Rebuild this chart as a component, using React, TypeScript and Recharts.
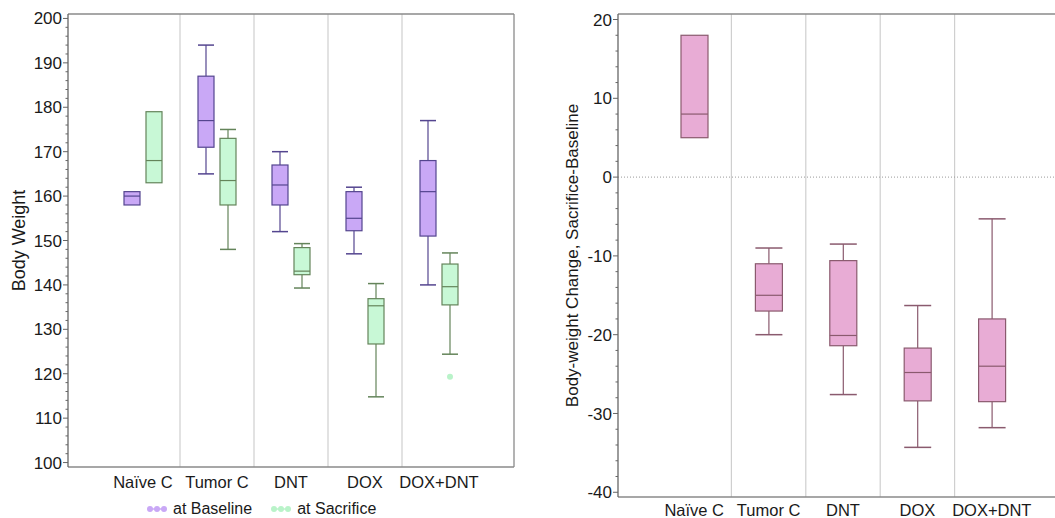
import React from 'react'
import { ComposedChart, Bar, XAxis, YAxis, ReferenceLine, Legend } from 'recharts'

const groups = ['Naïve C', 'Tumor C', 'DNT', 'DOX', 'DOX+DNT']

// body weight at baseline
const baseMin = [158, 165, 152, 147, 140]
const baseQ1 = [158, 171, 158, 152.2, 151]
const baseMed = [160, 177, 162.5, 155, 161]
const baseQ3 = [161, 187, 167, 161, 168]
const baseMax = [161, 194, 170, 162, 177]
const baseOut: number[][] = [[], [], [], [], []]

// body weight at sacrifice
const sacMin = [163, 148, 139.3, 114.8, 124.4]
const sacQ1 = [163, 158, 142.3, 126.7, 135.5]
const sacMed = [168, 163.5, 143.1, 135.3, 139.6]
const sacQ3 = [179, 173, 148.4, 136.9, 144.7]
const sacMax = [179, 175, 149.3, 140.3, 147.2]
const sacOut: number[][] = [[], [], [], [], [119.3]]

// change, sacrifice - baseline
const chgMin = [5, -20, -27.6, -34.3, -31.8]
const chgQ1 = [5, -17, -21.4, -28.4, -28.5]
const chgMed = [8, -15, -20.1, -24.8, -24]
const chgQ3 = [18, -11, -10.6, -21.7, -18]
const chgMax = [18, -9, -8.5, -16.3, -5.3]
const chgOut: number[][] = [[], [], [], [], []]

// every 2 units gets a tick mark, every 10 a label
const weightTicks = Array.from({ length: 51 }, (_, i) => 100 + i * 2)
const changeTicks = Array.from({ length: 31 }, (_, i) => -40 + i * 2)
// boundaries between the groups, on the group-index axis
const separators = [0.5, 1.5, 2.5, 3.5]

const FONT = '"Liberation Sans", Arial, Helvetica, sans-serif'
const TEXT = '#1a1a1a'
const AXIS = '#8a8a8a'
const GRID = '#cfcfcf'

const BASE = { fill: '#c9a8f6', stroke: '#54458f', out: '#c9a8f6' }
const SAC = { fill: '#c8f8d6', stroke: '#64845a', out: '#b9f3c9' }
const CHG = { fill: '#e8acd5', stroke: '#8a5a6e', out: '#e8acd5' }

type Stats = { min: number; q1: number; med: number; q3: number; max: number; out: number[] }

const stat = (mn: number[], a: number[], m: number[], b: number[], mx: number[], o: number[][], i: number): Stats =>
  ({ min: mn[i], q1: a[i], med: m[i], q3: b[i], max: mx[i], out: o[i] })

const rows = groups.map((g, i) => ({
  group: g,
  idx: i,
  base: stat(baseMin, baseQ1, baseMed, baseQ3, baseMax, baseOut, i),
  sac: stat(sacMin, sacQ1, sacMed, sacQ3, sacMax, sacOut, i),
  chg: stat(chgMin, chgQ1, chgMed, chgQ3, chgMax, chgOut, i),
}))

// box drawn inside the [min,max] range bar, so positions come from the axis scale
const BoxShape = (props: any) => {
  const { x, y, width, height, stats, c } = props
  if (x == null || y == null) return null
  const s: Stats = stats
  const top = Math.min(y, y + height)
  const h = Math.abs(height)
  const k = s.max > s.min ? h / (s.max - s.min) : 0
  const py = (v: number) => top + (s.max - v) * k
  const cx = x + width / 2
  return (
    <g>
      {s.max > s.q3 && (
        <>
          <line x1={cx} x2={cx} y1={py(s.max)} y2={py(s.q3)} stroke={c.stroke} strokeWidth={1.2} />
          <line x1={x} x2={x + width} y1={py(s.max)} y2={py(s.max)} stroke={c.stroke} strokeWidth={1.5} />
        </>
      )}
      {s.min < s.q1 && (
        <>
          <line x1={cx} x2={cx} y1={py(s.q1)} y2={py(s.min)} stroke={c.stroke} strokeWidth={1.2} />
          <line x1={x} x2={x + width} y1={py(s.min)} y2={py(s.min)} stroke={c.stroke} strokeWidth={1.5} />
        </>
      )}
      <rect x={x} y={py(s.q3)} width={width} height={py(s.q1) - py(s.q3)} fill={c.fill} stroke={c.stroke} strokeWidth={1.2} />
      <line x1={x} x2={x + width} y1={py(s.med)} y2={py(s.med)} stroke={c.stroke} strokeWidth={1.2} />
      {s.out.map((v, i) => (
        <circle key={i} cx={cx} cy={py(v)} r={3} fill={c.out} />
      ))}
    </g>
  )
}

// y tick: long mark + label every 10, short mark otherwise
const YTick = (props: any) => {
  const { x, y, payload } = props
  const major = payload.value % 10 === 0
  return (
    <g>
      <line x1={x - (major ? 5 : 2.5)} x2={x} y1={y} y2={y} stroke="#666" strokeWidth={1} />
      {major && (
        <text x={x - 6} y={y} dy="0.355em" textAnchor="end" fontSize={17} fill={TEXT} fontFamily={FONT}>
          {payload.value}
        </text>
      )}
    </g>
  )
}

const LegendIcon = ({ color }: { color: string }) => (
  <svg width={22} height={8} style={{ marginRight: 5 }}>
    <line x1={3} x2={19} y1={4} y2={4} stroke={color} strokeWidth={1.5} />
    <circle cx={4} cy={4} r={3} fill={color} />
    <circle cx={11} cy={4} r={3} fill={color} />
    <circle cx={18} cy={4} r={3} fill={color} />
  </svg>
)

const WeightLegend = () => (
  <div style={{ display: 'flex', alignItems: 'center', paddingLeft: 146, paddingTop: 8, fontSize: 16, lineHeight: '18px', color: TEXT, fontFamily: FONT }}>
    <LegendIcon color={BASE.out} />
    <span style={{ marginRight: 18 }}>at Baseline</span>
    <LegendIcon color={SAC.out} />
    <span>at Sacrifice</span>
  </div>
)

export default function App() {
  return (
    <div style={{ position: 'fixed', left: 0, top: 0, width: 1055, height: 518, overflow: 'hidden', background: '#fff', fontFamily: FONT }}>
      {/* body weight, baseline vs sacrifice */}
      <div style={{ position: 'absolute', left: 0, top: 0 }}>
        <ComposedChart width={530} height={518} data={rows} margin={{ top: 13, right: 15, bottom: 0, left: 8 }} barSize={16} barGap={6}>
          <XAxis xAxisId="cat" dataKey="group" padding={{ left: 38, right: 38 }} interval={0} tickLine={false}
            axisLine={{ stroke: AXIS, strokeWidth: 1.3 }} tick={{ fontSize: 16.5, fill: TEXT }} tickSize={6} tickMargin={3} height={25} />
          <XAxis xAxisId="sep" dataKey="idx" type="number" domain={[-0.5, 4.5]} allowDataOverflow padding={{ left: 38, right: 38 }} hide />
          <XAxis xAxisId="top" orientation="top" dataKey="group" tick={false} tickLine={false} axisLine={{ stroke: AXIS, strokeWidth: 1.3 }} height={1} />
          <YAxis yAxisId="w" type="number" domain={[99, 201]} ticks={weightTicks} interval={0} tickSize={0} tickMargin={0}
            tickLine={false} axisLine={{ stroke: '#666', strokeWidth: 1.3 }} tick={<YTick />} width={60}
            label={{ value: 'Body Weight', angle: -90, position: 'insideLeft', offset: 11, style: { textAnchor: 'middle', fontSize: 18, fill: TEXT } }} />
          <YAxis yAxisId="right" orientation="right" type="number" domain={[99, 201]} tick={false} tickLine={false}
            axisLine={{ stroke: AXIS, strokeWidth: 1.3 }} width={1} />
          {separators.map(s => (
            <ReferenceLine key={s} xAxisId="sep" yAxisId="w" x={s} stroke={GRID} strokeWidth={1.2} />
          ))}
          <Bar xAxisId="cat" yAxisId="w" name="at Baseline" dataKey={(r: any) => [r.base.min, r.base.max]}
            shape={(p: any) => <BoxShape {...p} stats={p.payload.base} c={BASE} />} isAnimationActive={false} />
          <Bar xAxisId="cat" yAxisId="w" name="at Sacrifice" dataKey={(r: any) => [r.sac.min, r.sac.max]}
            shape={(p: any) => <BoxShape {...p} stats={p.payload.sac} c={SAC} />} isAnimationActive={false} />
          <Legend verticalAlign="bottom" content={() => <WeightLegend />} wrapperStyle={{ left: 0, width: 530, height: 26 }} />
        </ComposedChart>
      </div>

      {/* body-weight change */}
      <div style={{ position: 'absolute', left: 530, top: 0 }}>
        <ComposedChart width={545} height={518} data={rows} margin={{ top: 13, right: 8, bottom: 0, left: 8 }} barSize={27}>
          <XAxis xAxisId="cat" dataKey="group" padding={{ left: 39, right: 38 }} interval={0} tickLine={false}
            axisLine={{ stroke: AXIS, strokeWidth: 1.3 }} tick={{ fontSize: 16.5, fill: TEXT }} tickSize={5} tickMargin={2} height={21} />
          <XAxis xAxisId="sep" dataKey="idx" type="number" domain={[-0.5, 4.5]} allowDataOverflow padding={{ left: 39, right: 38 }} hide />
          <XAxis xAxisId="top" orientation="top" dataKey="group" tick={false} tickLine={false} axisLine={{ stroke: AXIS, strokeWidth: 1.3 }} height={1} />
          <YAxis yAxisId="c" type="number" domain={[-40.6, 20.7]} ticks={changeTicks} interval={0} tickSize={0} tickMargin={0}
            tickLine={false} axisLine={{ stroke: '#666', strokeWidth: 1.3 }} tick={<YTick />} width={80}
            label={{ value: 'Body-weight Change, Sacrifice-Baseline', angle: -90, position: 'insideLeft', offset: 34, style: { textAnchor: 'middle', fontSize: 17, fill: TEXT } }} />
          {separators.map(s => (
            <ReferenceLine key={s} xAxisId="sep" yAxisId="c" x={s} stroke={GRID} strokeWidth={1.2} />
          ))}
          <ReferenceLine xAxisId="top" yAxisId="c" y={0} stroke="#999" strokeDasharray="1 2" />
          <Bar xAxisId="cat" yAxisId="c" name="Change" dataKey={(r: any) => [r.chg.min, r.chg.max]}
            shape={(p: any) => <BoxShape {...p} stats={p.payload.chg} c={CHG} />} isAnimationActive={false} />
        </ComposedChart>
      </div>
    </div>
  )
}
